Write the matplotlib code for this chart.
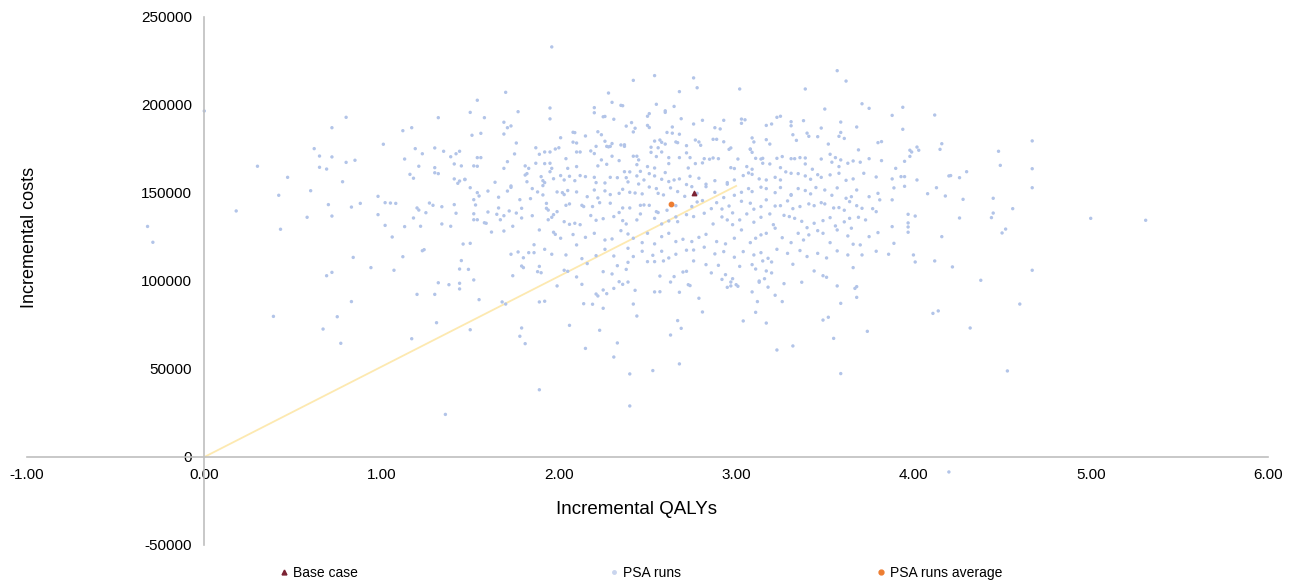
import matplotlib
matplotlib.use("Agg")
import matplotlib.pyplot as plt
from matplotlib.lines import Line2D
from matplotlib.ticker import FuncFormatter

plt.rcParams['font.family'] = ['Liberation Sans', 'DejaVu Sans']

# PSA runs (incremental QALYs, incremental costs)
psa_upper_left = [
	(0.18, 139800), (0.30, 165200), (0.42, 148700), (0.43, 129400), (0.47, 158900), (0.58, 136200),
	(0.60, 151300), (0.62, 175200), (0.65, 171000), (0.65, 164600), (0.69, 163600), (0.70, 143400),
	(0.72, 170500), (0.72, 187100), (0.72, 136900), (0.78, 156400), (0.80, 167400), (0.80, 193000),
	(0.83, 142000), (0.84, 113400), (0.85, 168600), (0.88, 144100), (0.98, 137700), (0.98, 148100),
	(1.01, 177700), (1.02, 131600), (1.02, 144500), (1.05, 144300), (1.06, 125000), (1.08, 144100),
	(1.12, 113800), (1.12, 185400), (1.13, 169300), (1.13, 130900), (1.16, 160600), (1.17, 187100),
	(1.18, 135800), (1.18, 158400), (1.19, 175200), (1.20, 141500), (1.21, 165200), (1.21, 140300),
	(1.22, 131100), (1.23, 117200), (1.23, 172300), (1.24, 117800), (1.25, 138800), (1.27, 144300),
	(1.29, 143000), (1.30, 175600), (1.30, 164400), (1.30, 161500), (1.32, 192800), (1.32, 161000),
	(1.34, 142200), (1.34, 132400), (1.35, 173700), (1.39, 131100), (1.39, 170600), (1.41, 166500),
	(1.41, 143400), (1.41, 158000), (1.42, 138500), (1.42, 172300), (1.43, 155500), (1.44, 156800),
	(1.44, 173700), (1.45, 165400), (1.46, 121000), (1.47, 157800), (1.47, 157600), (1.50, 195800),
	(1.50, 121400), (1.50, 153000), (1.51, 182800), (1.52, 165400), (1.52, 146200), (1.52, 138200),
	(1.52, 134800), (1.53, 143200), (1.54, 150200), (1.54, 202700), (1.54, 170100), (1.54, 165200),
	(1.54, 134800), (1.55, 148300), (1.56, 183900), (1.56, 170100), (1.58, 192800), (1.58, 133100),
	(1.59, 132800), (1.60, 151100), (1.60, 139200), (1.62, 127800), (1.64, 156100), (1.65, 137900),
	(1.66, 147600), (1.66, 141500), (1.67, 134800), (1.69, 190200), (1.69, 137100), (1.69, 164000),
	(1.69, 183500), (1.69, 128400), (1.70, 207200), (1.71, 187100), (1.71, 167800), (1.71, 151100),
	(1.72, 139800), (1.73, 188100), (1.73, 153200), (1.73, 115200), (1.73, 154000), (1.74, 131100),
	(1.75, 172200), (1.76, 138600), (1.76, 178400), (1.77, 196200), (1.77, 116500), (1.78, 146200),
	(1.79, 141300), (1.79, 135800), (1.80, 113200), (1.81, 165400), (1.81, 160200), (1.82, 156400),
	(1.82, 161000), (1.83, 164000), (1.83, 116100), (1.84, 146800), (1.85, 152500), (1.85, 137100),
	(1.86, 116100), (1.86, 120600), (1.87, 175700), (1.87, 166900), (1.88, 150600), (1.89, 172000),
	(1.89, 129000), (1.90, 159300), (1.91, 148900), (1.91, 154200), (1.91, 157000), (1.92, 155900),
	(1.92, 118000), (1.92, 173300), (1.92, 166700), (1.93, 141300), (1.93, 144100), (1.94, 140300),
	(1.94, 134800), (1.95, 198300), (1.95, 192100), (1.95, 166900), (1.95, 162100), (1.95, 173300),
	(1.96, 115200), (1.96, 136200), (1.96, 164000), (1.97, 127700), (1.97, 158100), (1.97, 137700),
	(1.98, 126500), (1.98, 175000), (1.99, 150600), (1.99, 139400), (2.00, 175700), (2.01, 181400),
]

psa_lower_left = [
	(0.39, 79900), (0.67, 72700), (0.69, 103000), (0.72, 104900), (0.75, 79700), (0.77, 64600),
	(0.83, 88300), (0.94, 107600), (1.07, 106100), (1.17, 67200), (1.20, 92400), (1.30, 92400),
	(1.31, 76300), (1.32, 99000), (1.36, 24200), (1.38, 97900), (1.44, 106800), (1.44, 98700),
	(1.44, 95500), (1.45, 111600), (1.49, 106600), (1.50, 72300), (1.52, 100600), (1.55, 89400),
	(1.68, 88100), (1.70, 86900), (1.74, 103000), (1.78, 68600), (1.79, 73300), (1.79, 108500),
	(1.80, 107600), (1.81, 64400), (1.88, 105300), (1.89, 88100), (1.89, 38200), (1.89, 108300),
	(1.90, 104700), (1.92, 88500), (1.99, 97200),
]

psa_top = [
	(1.96, 233000), (2.54, 216700), (3.57, 219500), (3.62, 213600), (2.42, 214000), (2.76, 215400),
	(2.78, 209800), (2.28, 206800), (3.02, 209100), (3.39, 209100), (2.30, 201500), (2.35, 199800),
	(2.36, 199600), (2.55, 200400), (2.68, 207600), (2.65, 199200), (2.60, 196700), (2.60, 195800),
	(2.20, 198500), (2.20, 195600), (2.26, 193500), (2.25, 193300), (2.31, 191900), (2.51, 195100),
	(2.50, 193600), (2.50, 188400), (2.51, 187200), (2.76, 189200), (2.81, 191300), (2.69, 192200),
	(2.93, 191300), (3.03, 192000), (3.03, 189600), (3.05, 191600), (3.17, 188400), (3.20, 189200),
	(3.23, 193000), (3.25, 193600), (3.31, 190500), (3.31, 188200), (3.38, 191100), (3.50, 197700),
	(3.59, 190300), (3.71, 200700), (3.75, 198100), (3.88, 194100), (3.68, 187500), (3.48, 186900),
	(3.59, 184400), (3.58, 182200), (3.61, 181000), (3.80, 178600), (3.82, 179200), (3.52, 177800),
	(3.46, 182000), (3.34, 179900), (3.32, 183100), (3.40, 184000), (3.41, 182200), (3.17, 180300),
	(3.10, 179000), (3.09, 181300), (3.19, 177800), (3.08, 175000), (2.97, 175600), (2.93, 179100),
	(2.91, 186400), (2.88, 187100), (2.87, 180500), (2.89, 180500), (2.77, 180100), (2.79, 179000),
	(2.80, 177100), (2.72, 176900), (2.68, 183400), (2.66, 179000), (2.67, 178600), (2.64, 184000),
	(2.64, 187500), (2.61, 184400), (2.60, 177800), (2.57, 180100), (2.58, 178800), (2.56, 175700),
	(2.54, 179500), (2.52, 176000), (2.42, 184700), (2.43, 186800), (2.41, 190000), (2.38, 188000),
	(2.37, 177400), (2.35, 177300), (2.37, 176500), (2.30, 178100), (2.29, 176500), (2.27, 176500),
	(2.28, 176200), (2.26, 179400), (2.24, 183100), (2.22, 184800), (2.21, 176500), (2.15, 182400),
	(2.10, 178400), (2.08, 178900), (2.09, 184300), (2.08, 184500),
]

psa_core = [
	(2.04, 169500), (2.10, 173300), (2.12, 173300), (2.18, 173900), (2.20, 172400), (2.24, 168800),
	(2.34, 168400), (2.30, 170900), (2.42, 170900), (2.44, 170900), (2.45, 168800), (2.52, 173100),
	(2.55, 170700), (2.58, 173300), (2.62, 170100), (2.68, 170100), (2.72, 172800), (2.74, 170100),
	(2.82, 169500), (2.85, 169200), (2.87, 169900), (2.90, 169500), (2.96, 174800), (3.01, 169300),
	(3.08, 174800), (3.09, 173100), (3.11, 169700), (3.14, 169300), (3.15, 169700), (3.23, 169700),
	(3.26, 170700), (3.31, 169500), (3.33, 169500), (3.36, 170100), (3.39, 169900), (3.48, 169300),
	(3.53, 172000), (3.56, 170100), (3.59, 168800), (3.66, 168200), (3.69, 174500), (3.75, 169500),
	(3.82, 168400),
	(2.05, 164000), (2.10, 165000), (2.22, 165400), (2.27, 166300), (2.37, 162100), (2.40, 162000),
	(2.44, 166100), (2.46, 162300), (2.50, 165000), (2.54, 164200), (2.60, 161600), (2.62, 166700),
	(2.73, 164200), (2.77, 166700), (2.81, 167100), (2.97, 164400), (2.99, 163900), (3.06, 165000),
	(3.09, 163500), (3.15, 166900), (3.19, 166500), (3.25, 164400), (3.39, 166500), (3.43, 163500),
	(3.54, 167500), (3.58, 165000), (3.63, 166900), (3.70, 167500), (3.90, 164000),
	(2.01, 159900), (2.03, 157400), (2.06, 159500), (2.09, 157000), (2.12, 159900), (2.15, 159300),
	(2.20, 158900), (2.21, 155900), (2.26, 155700), (2.29, 158900), (2.33, 158700), (2.38, 158700),
	(2.39, 156300), (2.44, 159700), (2.45, 155100), (2.48, 157400), (2.51, 161000), (2.54, 159700),
	(2.58, 157800), (2.62, 156500), (2.65, 157400), (2.68, 158000), (2.72, 154800), (2.74, 159500),
	(2.79, 158400), (2.83, 155000), (2.88, 157000), (2.95, 155900), (2.99, 157400), (3.04, 159900),
	(3.07, 161400), (3.09, 160600), (3.13, 158000), (3.17, 157400), (3.22, 158900), (3.25, 157400),
	(3.28, 162000), (3.31, 161200), (3.35, 161000), (3.39, 159700), (3.42, 157800), (3.46, 160400),
	(3.48, 158900), (3.53, 160300), (3.58, 161200), (3.62, 157200), (3.66, 158000), (3.72, 161200),
	(3.79, 159100), (3.88, 158000),
	(2.02, 150200), (2.03, 149100), (2.05, 151400), (2.10, 150600), (2.16, 147900), (2.20, 151700),
	(2.22, 147200), (2.26, 151200), (2.29, 149100), (2.34, 149800), (2.36, 152100), (2.40, 150400),
	(2.43, 150000), (2.47, 149500), (2.51, 153400), (2.55, 152500), (2.56, 149800), (2.59, 148900),
	(2.63, 152900), (2.67, 150800), (2.71, 148100), (2.75, 153600), (2.78, 149800), (2.83, 153600),
	(2.88, 150400), (2.93, 147400), (2.95, 155000), (2.99, 148700), (3.03, 150400), (3.07, 152500),
	(3.09, 150800), (3.14, 153300), (3.17, 152500), (3.22, 150200), (3.25, 153100), (3.31, 149100),
	(3.31, 148700), (3.35, 152500), (3.39, 151400), (3.42, 149500), (3.45, 153100), (3.50, 151700),
	(3.54, 148700), (3.57, 152900), (3.62, 147000), (3.65, 147900), (3.68, 151700), (3.75, 147900),
	(3.80, 149800), (3.89, 152900),
	(2.04, 143000), (2.06, 143800), (2.13, 143000), (2.14, 142300), (2.19, 142300), (2.23, 144500),
	(2.29, 144200), (2.36, 141500), (2.40, 141500), (2.46, 143000), (2.48, 143200), (2.51, 143000),
	(2.55, 139400), (2.61, 140200), (2.66, 142800), (2.75, 142300), (2.78, 144900), (2.81, 145700),
	(2.86, 141100), (2.89, 144500), (2.92, 140900), (2.96, 142600), (2.98, 138700), (3.03, 145300),
	(3.08, 144200), (3.10, 140800), (3.14, 142300), (3.17, 146100), (3.22, 142600), (3.25, 142800),
	(3.29, 145500), (3.32, 141100), (3.36, 142300), (3.41, 143800), (3.44, 142800), (3.48, 144500),
	(3.50, 143800), (3.55, 141500), (3.58, 141700), (3.61, 140200), (3.64, 145100), (3.68, 142800),
	(3.71, 141300), (3.77, 141100), (3.81, 146100), (3.88, 146100),
	(2.03, 133700), (2.06, 132200), (2.09, 132800), (2.12, 132000), (2.18, 137200), (2.21, 134500),
	(2.25, 135400), (2.31, 136600), (2.34, 138900), (2.36, 134300), (2.38, 132400), (2.44, 134700),
	(2.46, 138100), (2.54, 135600), (2.56, 138900), (2.58, 132400), (2.62, 134100), (2.66, 136400),
	(2.67, 133700), (2.72, 137700), (2.76, 136600), (2.82, 138500), (2.87, 132400), (2.92, 136400),
	(2.95, 134700), (2.98, 132000), (3.02, 134700), (3.06, 138100), (3.10, 133400), (3.14, 136200),
	(3.19, 138100), (3.21, 132000), (3.27, 137300), (3.30, 136600), (3.33, 135600), (3.37, 133900),
	(3.40, 130300), (3.44, 132800), (3.49, 134300), (3.53, 136000), (3.56, 131300), (3.61, 133600),
	(3.64, 135600), (3.69, 136200), (3.73, 134700), (3.79, 139400), (3.88, 130900),
	(2.01, 124300), (2.08, 126400), (2.10, 120500), (2.15, 124800), (2.20, 127100), (2.26, 123300),
	(2.30, 123900), (2.35, 128600), (2.39, 126700), (2.42, 124300), (2.47, 121800), (2.50, 127100),
	(2.54, 121100), (2.58, 125200), (2.62, 127100), (2.66, 122400), (2.70, 123700), (2.75, 122400),
	(2.79, 124800), (2.83, 126500), (2.89, 122400), (2.94, 121100), (2.99, 124300), (3.03, 129000),
	(3.08, 121800), (3.11, 124300), (3.14, 126200), (3.17, 127100), (3.22, 130000), (3.26, 124600),
	(3.31, 121800), (3.35, 127100), (3.38, 123300), (3.41, 126200), (3.46, 128600), (3.49, 127100),
	(3.53, 121800), (3.57, 129000), (3.63, 125600), (3.65, 130000), (3.66, 120900), (3.70, 120500),
	(3.75, 125200), (3.80, 127500), (3.89, 121400),
	(2.04, 114800), (2.13, 112700), (2.21, 114400), (2.26, 118000), (2.31, 114200), (2.39, 118600),
	(2.42, 113900), (2.47, 116900), (2.53, 114600), (2.58, 116900), (2.62, 113100), (2.66, 115200),
	(2.72, 117500), (2.76, 117600), (2.82, 119200), (2.88, 115400), (2.93, 116700), (2.99, 113500),
	(3.04, 116700), (3.10, 114800), (3.14, 116100), (3.18, 112900), (3.23, 118000), (3.29, 115700),
	(3.36, 117300), (3.40, 113900), (3.46, 115700), (3.51, 113100), (3.57, 117100), (3.63, 114800),
	(3.71, 114800), (3.79, 116900), (3.86, 115200),
]

psa_low = [
	(2.03, 106100), (2.05, 105500), (2.16, 109900), (2.10, 102300), (2.13, 98100), (2.14, 87100),
	(2.19, 86800), (2.21, 92600), (2.22, 91500), (2.25, 105300), (2.25, 94900), (2.27, 92800),
	(2.25, 84500), (2.30, 104000), (2.31, 95800), (2.33, 108700), (2.34, 99600), (2.36, 98100),
	(2.39, 99400), (2.38, 106600), (2.39, 110600), (2.43, 94700), (2.42, 86900), (2.44, 80100),
	(2.06, 74800), (2.23, 72000), (2.15, 61700), (2.33, 64800), (2.31, 56800), (2.40, 47200),
	(2.40, 29000), (2.50, 111000), (2.54, 111000), (2.59, 111400), (2.57, 102800), (2.54, 93800),
	(2.57, 93900), (2.53, 49100), (2.63, 99400), (2.65, 102500), (2.68, 93600), (2.67, 77500),
	(2.69, 73100), (2.63, 69300), (2.68, 52900), (2.70, 105100), (2.72, 105500), (2.73, 97900),
	(2.74, 97400), (2.76, 111400), (2.79, 90200), (2.81, 82400), (2.83, 109300), (2.86, 104600),
	(2.90, 108900), (2.92, 100900), (2.94, 103600), (2.95, 96400), (2.97, 99400), (2.98, 101300),
	(2.97, 97200), (3.00, 97900), (3.01, 97000), (3.02, 108300), (3.04, 77300), (3.09, 109300),
	(3.11, 106800), (3.09, 93800), (3.12, 88300), (3.11, 82200), (3.13, 100000), (3.13, 99300),
	(3.16, 101300), (3.15, 111400), (3.17, 105700), (3.18, 96500), (3.20, 104600), (3.20, 110800),
	(3.17, 76100), (3.22, 91900), (3.26, 88300), (3.27, 98500), (3.23, 60800), (3.32, 63100),
	(3.32, 109500), (3.37, 99300), (3.44, 105700), (3.49, 103000), (3.51, 102100), (3.49, 77800),
	(3.52, 79400), (3.55, 67400), (3.57, 97200), (3.59, 87300), (3.59, 47400), (3.66, 107600),
	(3.67, 95800), (3.68, 96800), (3.68, 90700), (3.74, 71400),
]

psa_right = [
	(3.94, 198700), (4.12, 194300), (3.94, 186200), (4.67, 179600), (4.16, 178000), (4.02, 176100),
	(3.98, 174300), (3.99, 173300), (4.03, 174300), (4.15, 174800), (4.48, 173700), (3.98, 170800),
	(3.95, 168000), (4.49, 165700), (4.67, 163800), (4.30, 162100), (3.93, 159300), (3.95, 159300),
	(4.20, 159700), (4.21, 159900), (4.26, 158700), (4.02, 157400), (3.95, 153800), (4.67, 153000),
	(4.13, 153000), (4.08, 149600), (4.18, 148300), (4.28, 146400), (4.45, 147000), (4.56, 141100),
	(3.97, 137900), (4.01, 136900), (5.00, 135600), (5.31, 134500), (4.26, 135800), (4.44, 136000),
	(4.45, 138600), (3.97, 133000), (3.97, 130700), (3.97, 127700), (4.52, 129500), (4.50, 127300),
	(4.16, 125200), (4.00, 114800), (4.01, 110800), (4.12, 111400), (4.22, 108000), (4.67, 106100),
	(4.38, 100400), (4.60, 86900), (4.11, 81600), (4.14, 83000), (4.32, 73300), (4.53, 48900),
]

psa_outliers = [(-0.32, 131000), (-0.29, 122000), (0.00, 196600), (4.20, -8500)]

base_case = (2.76, 150000)
psa_average = (2.63, 143700)

# threshold line drawn from the origin
line_qaly = [0.0, 3.0]
line_cost = [0, 154000]

x_ticks = [-1, 0, 1, 2, 3, 4, 5, 6]
y_ticks = [-50000, 0, 50000, 100000, 150000, 200000, 250000]

psa = psa_upper_left + psa_lower_left + psa_top + psa_core + psa_low + psa_right + psa_outliers
psa_qaly = [p[0] for p in psa]
psa_cost = [p[1] for p in psa]

fig = plt.figure(figsize=(13, 5.82), dpi=100)
ax = fig.add_axes([27 / 1300, 1 - 545 / 582, (1268 - 27) / 1300, (545 - 17) / 582])

ax.plot(line_qaly, line_cost, color='#fde9b0', lw=1.3, zorder=1)
ax.scatter(psa_qaly, psa_cost, s=6, marker='o', color='#b2c4e8', edgecolors='none', zorder=2)
ax.scatter([base_case[0]], [base_case[1]], s=10, marker='^', color='#7b2232', zorder=3)
ax.scatter([psa_average[0]], [psa_average[1]], s=10, marker='o', color='#ed7d31', zorder=3)

ax.set_xlim(-1, 6)
ax.set_ylim(-50000, 250000)
ax.set_xticks(x_ticks)
ax.set_yticks(y_ticks)
ax.xaxis.set_major_formatter(FuncFormatter(lambda v, p: f"{v:.2f}"))
ax.yaxis.set_major_formatter(FuncFormatter(lambda v, p: f"{v:.0f}"))
ax.tick_params(axis='both', length=0, labelsize=11, colors='#000000')
ax.tick_params(axis='x', pad=8)
ax.tick_params(axis='y', pad=9)

for side in ['top', 'right']:
	ax.spines[side].set_visible(False)
ax.spines['left'].set_position(('data', 0))
ax.spines['bottom'].set_position(('data', 0))
for side in ['left', 'bottom']:
	ax.spines[side].set_color('#bfbfbf')
	ax.spines[side].set_linewidth(1.2)

fig.text(30 / 1300, 1 - 237 / 582, 'Incremental costs', rotation=90, ha='center', va='center', fontsize=13)
fig.text(636 / 1300, 1 - 510 / 582, 'Incremental QALYs', ha='center', va='center', fontsize=13.5)

legend_items = [
	(Line2D([], [], ls='none', marker='^', ms=3.5, color='#7b2232'), 'Base case', 281),
	(Line2D([], [], ls='none', marker='o', ms=2.5, color='#c9d5ee'), 'PSA runs', 611),
	(Line2D([], [], ls='none', marker='o', ms=3.5, color='#ed7d31'), 'PSA runs average', 878),
]
for handle, label, xpix in legend_items:
	fig.legend([handle], [label], loc='center left', bbox_to_anchor=(xpix / 1300, 1 - 573 / 582),
		frameon=False, fontsize=10, handlelength=0.5, handletextpad=0.35, borderpad=0, borderaxespad=0)

fig.savefig('out.png', dpi=100, facecolor='white')
